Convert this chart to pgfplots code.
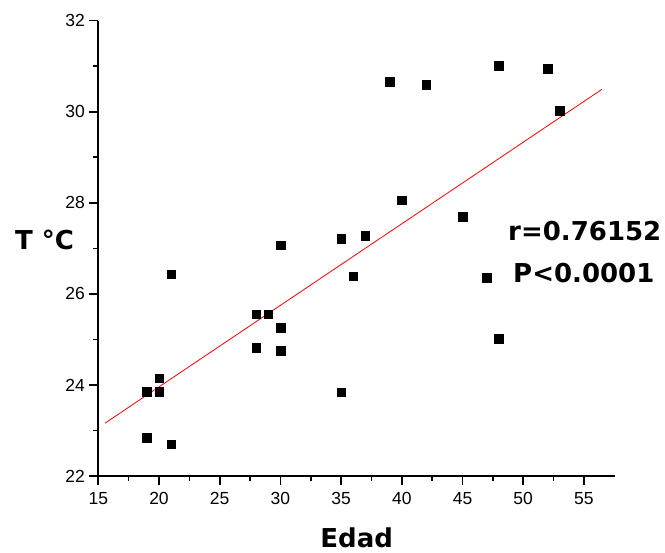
\documentclass[border=0pt]{standalone}
\usepackage{fontspec}
\setmainfont{Liberation Sans}
\newfontfamily\blk{DejaVu Sans}
\newfontfamily\tck{Liberation Sans}
\usepackage{pgfplots}
\pgfplotsset{compat=1.18}

\begin{document}
\begin{tikzpicture}
\path[use as bounding box] (-98.3bp,-77bp) rectangle (566.7bp,476bp);
\begin{axis}[
    at={(0,0)}, anchor=origin,
    scale only axis,
    width=516.7bp, height=455.3bp,
    xmin=15, xmax=57.56, ymin=22, ymax=32,
    axis x line=bottom, axis y line=left,
    axis line style={-, line width=1.6bp},
    xtick={15,20,...,55}, ytick={22,24,...,32},
    minor x tick num=1, minor y tick num=1,
    tick align=outside,
    major tick length=9bp, minor tick length=5bp,
    every tick/.style={black, line width=1.6bp},
    xticklabel={\tck\fontsize{17.5bp}{20bp}\selectfont\pgfmathprintnumber{\tick}},
    yticklabel={\tck\fontsize{17.5bp}{20bp}\selectfont\pgfmathprintnumber{\tick}},
    xticklabel style={yshift=-4bp},
    yticklabel style={xshift=-1bp},
    /pgf/number format/assume math mode=true,
    clip=false,
    xlabel={Edad},
    xlabel style={font=\blk\bfseries\fontsize{26bp}{30bp}\selectfont,
        at={(axis description cs:0.5,-0.158)}, anchor=base},
    ylabel={T °C},
    ylabel style={font=\blk\bfseries\fontsize{26bp}{30bp}\selectfont,
        rotate=-90, at={(axis description cs:-0.1676,0.4964)}, anchor=base west},
]
\addplot[only marks, mark=square*, mark size=4.3bp, black] coordinates {
    (19,23.85) (19,22.84) (20,24.15) (20,23.85) (21,22.70) (21,26.43)
    (28,25.55) (28,24.82) (29,25.55) (30,25.26) (30,24.75) (30,27.07)
    (35,27.21) (35,23.84) (36,26.39) (37,27.28) (39,30.66) (40,28.06)
    (42,30.59) (45,27.70) (47,26.36) (48,31.01) (48,25.02) (52,30.94)
    (53,30.02)
};
\addplot[red, line width=0.8bp] coordinates {(15.55,23.16) (56.47,30.49)};
\node[anchor=base west, font=\blk\bfseries\fontsize{26bp}{30bp}\selectfont, inner sep=0pt]
    at (axis cs:48.75,27.18) {r=0.76152};
\node[anchor=base west, font=\blk\bfseries\fontsize{26bp}{30bp}\selectfont, inner sep=0pt]
    at (axis cs:49.16,26.24) {P<0.0001};
\end{axis}
\end{tikzpicture}
\end{document}
